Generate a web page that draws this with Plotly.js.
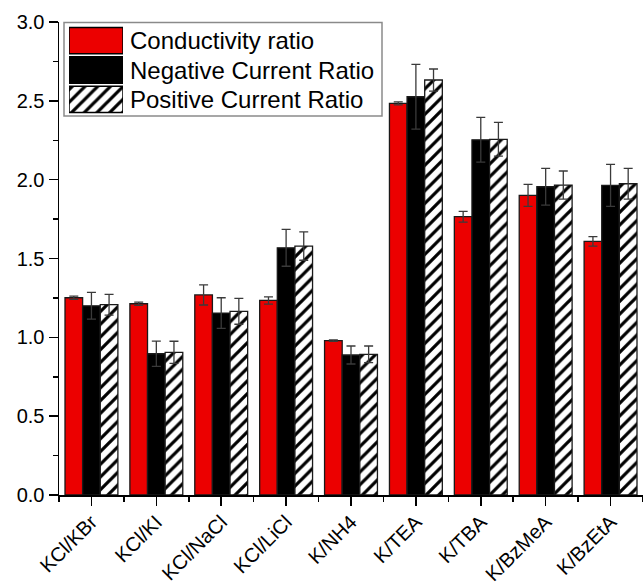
<!DOCTYPE html>
<html>
<head>
<meta charset="utf-8">
<script src="https://cdn.plot.ly/plotly-3.0.1.min.js"></script>
<style>html,body{margin:0;padding:0;background:#fff;}#chart{width:643px;height:584px;}</style>
</head>
<body>
<div id="chart"></div>
<script>
// ---- data ----
const categories = ["KCl/KBr","KCl/KI","KCl/NaCl","KCl/LiCl","K/NH4","K/TEA","K/TBA","K/BzMeA","K/BzEtA"];
const seriesNames = ["Conductivity ratio","Negative Current Ratio","Positive Current Ratio"];
const conductivity = [1.251, 1.213, 1.269, 1.234, 0.979, 2.484, 1.765, 1.900, 1.609];
const conductivityErr = [0.010, 0.010, 0.064, 0.023, 0.005, 0.010, 0.034, 0.070, 0.030];
const negCurrent = [1.200, 0.896, 1.154, 1.568, 0.888, 2.526, 2.253, 1.955, 1.964];
const negCurrentErr = [0.085, 0.080, 0.097, 0.117, 0.057, 0.205, 0.142, 0.117, 0.133];
const posCurrent = [1.207, 0.905, 1.165, 1.579, 0.892, 2.632, 2.256, 1.966, 1.974];
const posCurrentErr = [0.066, 0.070, 0.082, 0.090, 0.053, 0.070, 0.107, 0.089, 0.098];
const yTicks = [0, 0.5, 1.0, 1.5, 2.0, 2.5, 3.0];

// ---- styles ----
const RED = "rgb(236,0,0)";
const OUT = {color: "#1a1a1a", width: 1.3};
const FONT = "Liberation Sans, Arial, sans-serif";
const errStyle = (arr) => ({type: "data", array: arr, visible: true, color: "#3a3a3a", thickness: 1.3, width: 4.5});
const HATCH = {shape: "/", fgcolor: "#000", bgcolor: "#fff", size: 9, solidity: 0.36};

const xIdx = categories.map((_, i) => i);

const markers = [
  {color: RED, line: OUT},
  {color: "#000000", line: OUT},
  {color: "#ffffff", line: OUT, pattern: HATCH}
];

const traces = [
  {type: "bar", name: seriesNames[0], x: xIdx, y: conductivity, error_y: errStyle(conductivityErr), marker: markers[0]},
  {type: "bar", name: seriesNames[1], x: xIdx, y: negCurrent, error_y: errStyle(negCurrentErr), marker: markers[1]},
  {type: "bar", name: seriesNames[2], x: xIdx, y: posCurrent, error_y: errStyle(posCurrentErr), marker: markers[2]}
].map(t => Object.assign(t, {showlegend: false, hoverinfo: "skip"}));

// legend swatches drawn as bars on a small auxiliary axis
seriesNames.forEach((n, i) => {
  const m = Object.assign({}, markers[i], {line: {color: "#000", width: 1.5}});
  traces.push({
    type: "bar", orientation: "h", xaxis: "x2", yaxis: "y2",
    y: [i], x: [1], width: 0.9, offset: -0.45, showlegend: false, hoverinfo: "skip",
    marker: m
  });
});

const minorX = [];
for (let i = 0; i <= categories.length; i++) minorX.push(i - 0.5);

const W = 643, H = 584, L = 59, R = 0, T = 22, B = 89;
const pw = W - L - R, ph = H - T - B;
const px = v => (v - L) / pw;
const py = v => (H - B - v) / ph;

const layout = {
  width: W, height: H,
  margin: {l: L, r: R, t: T, b: B, pad: 0},
  paper_bgcolor: "#fff", plot_bgcolor: "#fff",
  barmode: "group", bargap: 0.185, bargroupgap: 0,
  font: {family: FONT, size: 20, color: "#000"},
  xaxis: {
    range: [-0.5, categories.length - 0.5],
    tickmode: "array", tickvals: xIdx, ticktext: categories,
    tickangle: -45, ticks: "outside", ticklen: 9, tickwidth: 1.5, tickcolor: "#000",
    ticklabelstandoff: -3,
    minor: {tickmode: "array", tickvals: minorX, ticks: "outside", ticklen: 5, tickwidth: 1.5, tickcolor: "#000"},
    showline: true, linecolor: "#000", linewidth: 1.5, showgrid: false, zeroline: false,
    tickfont: {family: FONT, size: 20, color: "#000"}, fixedrange: true
  },
  yaxis: {
    range: [0, 3], tickmode: "array", tickvals: yTicks, ticktext: yTicks.map(v => v.toFixed(1)),
    ticks: "outside", ticklen: 9, tickwidth: 1.5, tickcolor: "#000",
    minor: {dtick: 0.25, tick0: 0, ticks: "outside", ticklen: 5, tickwidth: 1.5, tickcolor: "#000"},
    showline: true, linecolor: "#000", linewidth: 1.5, showgrid: false, zeroline: false,
    tickfont: {family: FONT, size: 20, color: "#000"}, fixedrange: true
  },
  xaxis2: {domain: [px(69), px(123)], range: [0, 1], anchor: "y2", visible: false, fixedrange: true},
  yaxis2: {domain: [py(114), py(26)], range: [2.5, -0.5], anchor: "x2", visible: false, fixedrange: true},
  shapes: [
    {type: "rect", xref: "paper", yref: "paper", x0: px(64), x1: px(382), y0: py(116), y1: py(22.5),
     line: {color: "#8a8a8a", width: 1.5}, fillcolor: "rgba(0,0,0,0)", layer: "below"}
  ],
  annotations: seriesNames.map((n, i) => ({
    text: n, xref: "paper", yref: "y2", x: px(128), y: i, xanchor: "left", yanchor: "middle",
    showarrow: false, font: {family: FONT, size: 24, color: "#000"}
  }))
};

Plotly.newPlot("chart", traces, layout, {staticPlot: true, displayModeBar: false});
</script>
</body>
</html>
